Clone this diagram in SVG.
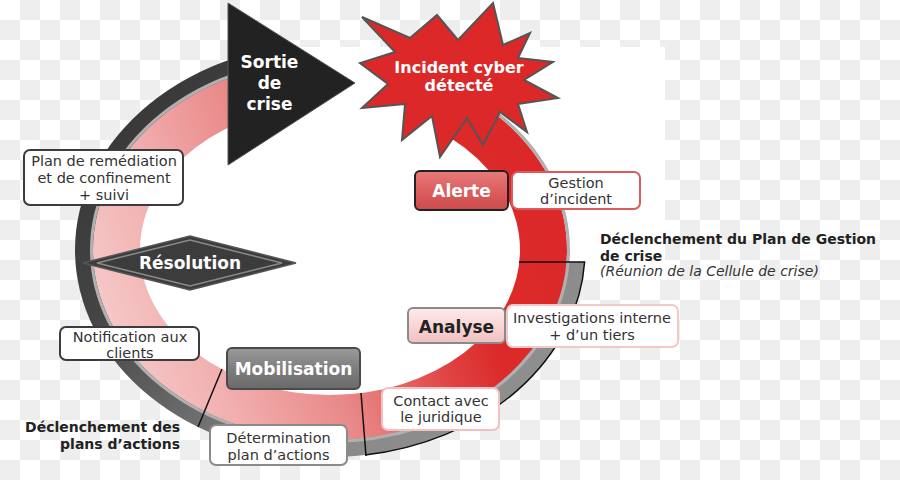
<svg xmlns="http://www.w3.org/2000/svg" width="900" height="480" viewBox="0 0 900 480">
<defs>
<pattern id="checker" width="40" height="40" patternUnits="userSpaceOnUse">
<rect width="40" height="40" fill="#ffffff"/>
<rect x="20" y="0" width="20" height="20" fill="#eeeeee"/>
<rect x="0" y="20" width="20" height="20" fill="#eeeeee"/>
</pattern>
<linearGradient id="gBand" gradientUnits="userSpaceOnUse" x1="80" y1="380" x2="560" y2="200">
<stop offset="0" stop-color="#f7d2d2"/>
<stop offset="0.1" stop-color="#f5c6c6"/>
<stop offset="0.25" stop-color="#f2b0b0"/>
<stop offset="0.47" stop-color="#e98888"/>
<stop offset="0.55" stop-color="#e76f6f"/>
<stop offset="0.68" stop-color="#e04242"/>
<stop offset="0.78" stop-color="#dc2a2a"/>
<stop offset="1" stop-color="#dc2828"/>
</linearGradient>
<linearGradient id="gRim" gradientUnits="userSpaceOnUse" x1="100" y1="100" x2="450" y2="450">
<stop offset="0" stop-color="#363636"/>
<stop offset="0.3" stop-color="#444444"/>
<stop offset="0.58" stop-color="#6c6c6c"/>
<stop offset="0.75" stop-color="#888888"/>
<stop offset="1" stop-color="#8e8e8e"/>
</linearGradient>
<linearGradient id="gAlert" x1="0" y1="0" x2="0" y2="1">
<stop offset="0" stop-color="#e77a7a"/>
<stop offset="0.5" stop-color="#dc5f5f"/>
<stop offset="1" stop-color="#cc4a4a"/>
</linearGradient>
<linearGradient id="gPink" x1="0" y1="0" x2="0" y2="1">
<stop offset="0" stop-color="#fdeaea"/>
<stop offset="0.5" stop-color="#fad6d6"/>
<stop offset="1" stop-color="#f0c0c0"/>
</linearGradient>
<linearGradient id="gGray" x1="0" y1="0" x2="0" y2="1">
<stop offset="0" stop-color="#9a9a9a"/>
<stop offset="0.5" stop-color="#7e7e7e"/>
<stop offset="1" stop-color="#6a6a6a"/>
</linearGradient>
<clipPath id="ringClip">
<path clip-rule="evenodd" d="M0 0H900V480H0Z M228 0V200H445V0Z"/>
</clipPath>
<clipPath id="rimClip">
<path clip-rule="evenodd" d="M0 0H900V480H0Z M228 0H900V262H445V200H228Z"/>
</clipPath>
<style>
.box{fill:#ffffff;stroke-width:2}
.t{font-family:"DejaVu Sans",Verdana,sans-serif;font-size:14.5px;fill:#333333;text-anchor:middle}
.b{font-family:"DejaVu Sans",Verdana,sans-serif;font-weight:bold;font-size:17px;fill:#ffffff;text-anchor:middle}
.lab{font-family:"DejaVu Sans",Verdana,sans-serif;font-weight:bold;font-size:14px;fill:#222222}
.it{font-family:"DejaVu Sans",Verdana,sans-serif;font-style:italic;font-size:14px;fill:#333333}
.div{stroke:#111111;stroke-width:1.5;fill:none}
</style>
</defs>

<g id="background">
<rect width="900" height="480" fill="url(#checker)"/>
<rect x="228" y="47" width="437" height="233" fill="#ffffff"/>
</g>

<g id="ring">
<ellipse cx="330" cy="250" rx="255" ry="207" fill="url(#gRim)" clip-path="url(#rimClip)"/>
<ellipse cx="330" cy="250" rx="237" ry="190" fill="url(#gBand)" clip-path="url(#ringClip)"/>
<ellipse cx="330" cy="250" rx="238.5" ry="191.5" fill="none" stroke="#b0b0b0" stroke-width="3" clip-path="url(#ringClip)"/>
<ellipse cx="330" cy="250" rx="190" ry="145" fill="#ffffff"/>
</g>

<g id="connectors">
<path class="div" d="M519 262H584.6A255 207 0 0 1 365 455"/>
<line class="div" x1="361" y1="393" x2="366" y2="456"/>
<line class="div" x1="222" y1="369" x2="198" y2="427"/>
</g>

<g id="sortie">
<polygon points="228,3 355,83 228,165" fill="#222222" stroke="#555555" stroke-width="1"/>
<text class="b" x="269.5" y="68">Sortie</text>
<text class="b" x="269.5" y="89">de</text>
<text class="b" x="269.5" y="110">crise</text>
</g>

<g id="incident">
<polygon points="493,3 503,45 530,33 518,58 553,62 524,80 558,98 518,104 527,132 500,112 483,145 467,118 440,157 432,116 402,140 405,104 362,108 388,84 360,63 395,52 362,17 410,38 437,15 458,40" fill="#dc2828" stroke="#555555" stroke-width="2" stroke-linejoin="miter"/>
<text class="b" style="font-size:16px" x="459" y="73">Incident cyber</text>
<text class="b" style="font-size:16px" x="459" y="91">détecté</text>
</g>

<g id="alerte">
<rect x="415" y="171" width="93" height="39" rx="5" fill="url(#gAlert)" stroke="#222222" stroke-width="2"/>
<text class="b" x="461.5" y="197">Alerte</text>
</g>

<g id="gestion">
<rect class="box" x="512" y="172" width="128" height="37" rx="6" stroke="#d85c5c"/>
<text class="t" x="576" y="188">Gestion</text>
<text class="t" x="576" y="204">d’incident</text>
</g>

<g id="declenchement-pgc">
<text class="lab" x="600" y="244">Déclenchement du Plan de Gestion</text>
<text class="lab" x="600" y="261">de crise</text>
<text class="it" x="600" y="276">(Réunion de la Cellule de crise)</text>
</g>

<g id="analyse">
<rect x="408" y="308" width="97" height="35" rx="5" fill="url(#gPink)" stroke="#8a8a8a" stroke-width="2"/>
<text class="b" style="fill:#222222" x="456.5" y="333">Analyse</text>
</g>

<g id="investigations">
<rect class="box" x="507" y="305" width="171" height="42" rx="6" stroke="#f5c8c8"/>
<text class="t" x="592" y="323">Investigations interne</text>
<text class="t" x="592" y="340">+ d’un tiers</text>
</g>

<g id="contact">
<rect class="box" x="382" y="388" width="117" height="42" rx="6" stroke="#f2c0c0"/>
<text class="t" x="441" y="406">Contact avec</text>
<text class="t" x="441" y="422">le juridique</text>
</g>

<g id="mobilisation">
<rect x="227" y="348" width="133" height="41" rx="5" fill="url(#gGray)" stroke="#4a4a4a" stroke-width="2"/>
<text class="b" x="293.5" y="375">Mobilisation</text>
</g>

<g id="determination">
<rect class="box" x="210" y="425" width="137" height="40" rx="6" stroke="#8a8a8a"/>
<text class="t" x="278.5" y="443">Détermination</text>
<text class="t" x="278.5" y="460">plan d’actions</text>
</g>

<g id="declenchement-plans">
<text class="lab" text-anchor="end" x="180" y="432">Déclenchement des</text>
<text class="lab" text-anchor="end" x="180" y="449">plans d’actions</text>
</g>

<g id="notification">
<rect class="box" x="60" y="327" width="139" height="33" rx="6" stroke="#3c3c3c"/>
<text class="t" x="130" y="342">Notification aux</text>
<text class="t" x="130" y="358">clients</text>
</g>

<g id="resolution">
<polygon points="83,263 190,236 296,263 190,290" fill="#3c3c3c" stroke="#555555" stroke-width="1.5"/>
<polygon points="97,263 190,240 282,263 190,286" fill="none" stroke="#8a8a8a" stroke-width="1.5"/>
<text class="b" x="190" y="269">Résolution</text>
</g>

<g id="plan-remediation">
<rect class="box" x="24" y="150" width="159" height="55" rx="6" stroke="#3c3c3c" stroke-width="2.5"/>
<text class="t" x="104" y="166">Plan de remédiation</text>
<text class="t" x="104" y="183">et de confinement</text>
<text class="t" x="104" y="199.5">+ suivi</text>
</g>
</svg>
